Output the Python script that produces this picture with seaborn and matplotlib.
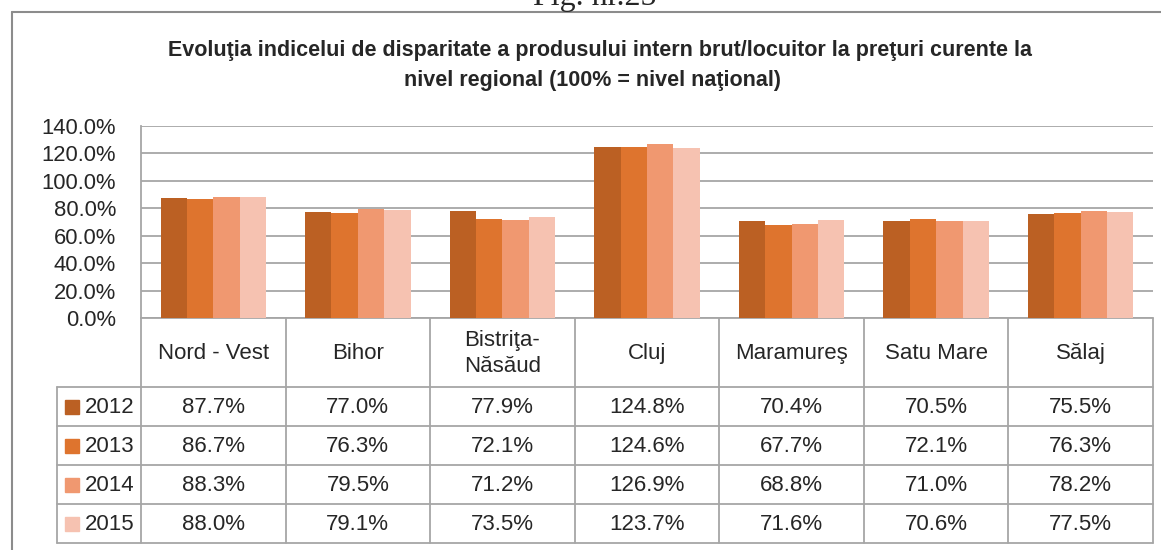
import matplotlib
matplotlib.use("Agg")
import matplotlib.pyplot as plt
import pandas as pd
import seaborn as sns
from matplotlib.patches import Rectangle

# chart data
regions = ["Nord - Vest", "Bihor", "Bistriţa-\nNăsăud", "Cluj", "Maramureş", "Satu Mare", "Sălaj"]
years = ["2012", "2013", "2014", "2015"]
v2012 = [87.7, 77.0, 77.9, 124.8, 70.4, 70.5, 75.5]
v2013 = [86.7, 76.3, 72.1, 124.6, 67.7, 72.1, 76.3]
v2014 = [88.3, 79.5, 71.2, 126.9, 68.8, 71.0, 78.2]
v2015 = [88.0, 79.1, 73.5, 123.7, 71.6, 70.6, 77.5]
yticks = [0, 20, 40, 60, 80, 100, 120, 140]

colors = ["#BB6023", "#DE742E", "#F09870", "#F6C2B1"]
GRID = "#A6A6A6"
FONT = ["Liberation Sans", "DejaVu Sans"]

sns.set_style("white")
plt.rcParams["font.family"] = FONT

series = [v2012, v2013, v2014, v2015]
df = pd.DataFrame({
    "region": [r for _ in years for r in regions],
    "year": [y for y in years for _ in regions],
    "value": [v for s in series for v in s],
})

W, H = 1161, 550
fig = plt.figure(figsize=(W / 100, H / 100), dpi=100)

# pixel layout of the plot area
left, right, top, bottom = 141, 1153, 126, 318
ax = fig.add_axes([left / W, 1 - bottom / H, (right - left) / W, (bottom - top) / H], zorder=2)
ax.patch.set_alpha(0)

sns.barplot(data=df, x="region", y="value", hue="year", palette=colors, saturation=1,
            width=0.73, linewidth=0, legend=False, ax=ax, zorder=3)
ax.set_xlim(-0.5, len(regions) - 0.5)
ax.set_ylim(0, 140)
ax.set_yticks(yticks)
ax.set_yticklabels([f"{t:.1f}%" for t in yticks], fontsize=15.8)
ax.tick_params(axis="y", length=0, pad=18)
ax.set_xticks([])
ax.set_xlabel("")
ax.set_ylabel("")
ax.yaxis.grid(True, color=GRID, linewidth=1.3, zorder=0)
ax.set_axisbelow(True)
for side in ["top", "right", "bottom"]:
    ax.spines[side].set_visible(False)
ax.spines["left"].set_color(GRID)
ax.spines["left"].set_linewidth(1.3)

# overlay in pixel coordinates for frame, title and data table
ov = fig.add_axes([0, 0, 1, 1], zorder=1)
ov.set_xlim(0, W)
ov.set_ylim(H, 0)
ov.axis("off")

ov.plot([12, W], [12, 12], color="#8C8C8C", lw=1.5)
ov.plot([12, 12], [12, H], color="#8C8C8C", lw=1.5)
ov.text(595, 5, "Fig. nr.25", ha="center", va="baseline", fontsize=23,
        family=["Liberation Serif", "DejaVu Serif"])

ov.text(600, 56, "Evoluţia indicelui de disparitate a produsului intern brut/locuitor la preţuri curente la",
        ha="center", va="baseline", fontsize=15.5, fontweight="bold")
ov.text(593, 86, "nivel regional (100% = nivel naţional)",
        ha="center", va="baseline", fontsize=15.5, fontweight="bold")

col_w = (right - left) / len(regions)
row_y = [387, 426, 465, 504, 543]
lab_left = 57

# table grid
for i in range(len(regions) + 1):
    x = left + i * col_w
    ov.plot([x, x], [bottom, row_y[-1]], color=GRID, lw=1.3)
ov.plot([left, right], [bottom, bottom], color=GRID, lw=1.3)
for y in row_y:
    ov.plot([lab_left, right], [y, y], color=GRID, lw=1.3)
ov.plot([lab_left, lab_left], [row_y[0], row_y[-1]], color=GRID, lw=1.3)

# header row with region names
for i, name in enumerate(regions):
    ov.text(left + (i + 0.5) * col_w, (bottom + row_y[0]) / 2 + 1, name,
            ha="center", va="center", fontsize=16, linespacing=1.3)

# data rows with legend keys
for j, (yr, vals) in enumerate(zip(years, series)):
    yc = (row_y[j] + row_y[j + 1]) / 2
    ov.add_patch(Rectangle((65, yc - 7), 14, 14, color=colors[j]))
    ov.text(85, yc + 1, yr, ha="left", va="center", fontsize=16)
    for i, v in enumerate(vals):
        ov.text(left + (i + 0.5) * col_w, yc + 1, f"{v:.1f}%",
                ha="center", va="center", fontsize=16)

fig.savefig("out.png", dpi=100)
plt.close(fig)
